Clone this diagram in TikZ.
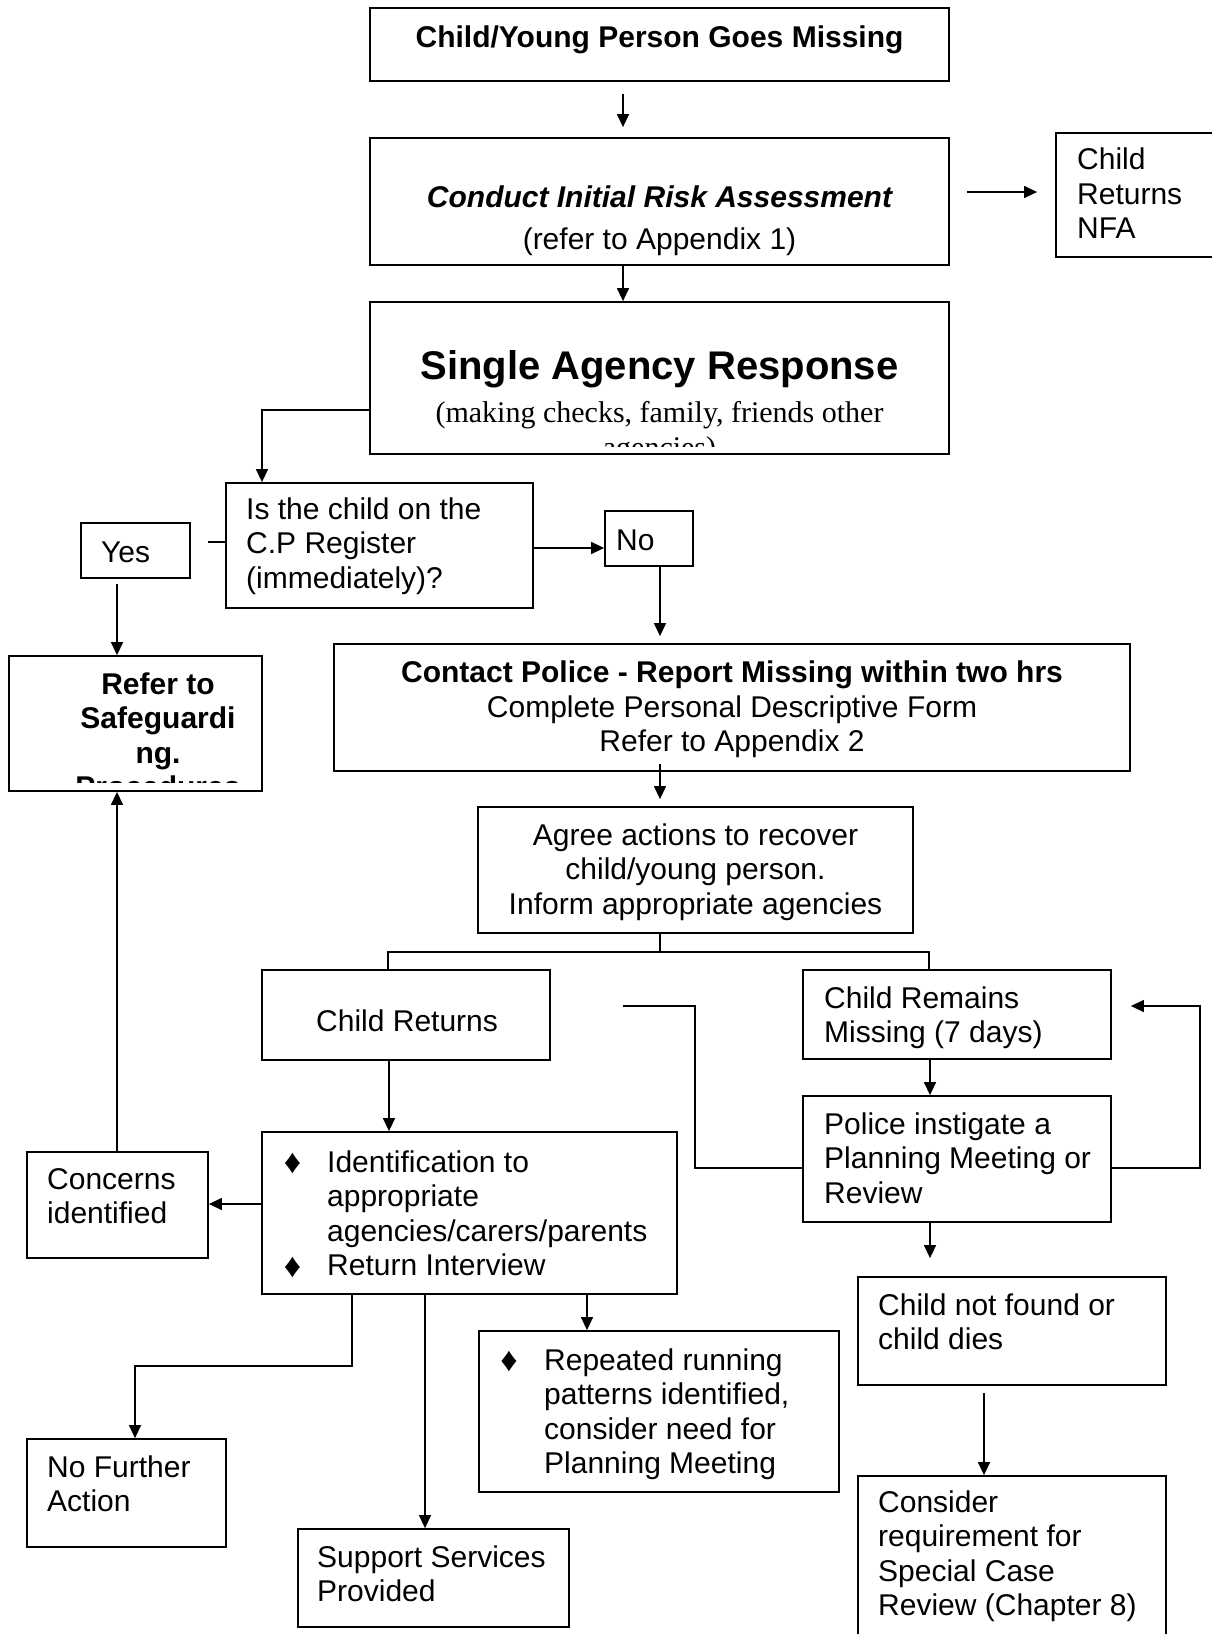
\documentclass[tikz,border=0pt]{standalone}
\usepackage{fontspec}
\setmainfont{Liberation Sans}
\newfontfamily\timesfont{Liberation Serif}
\usetikzlibrary{arrows.meta,fit}
\newcommand\myfs{\fontsize{30}{34.5}\selectfont}
\tikzset{
  box/.style={draw, line width=1.8pt, inner sep=0pt},
  txt/.style={inner sep=0pt, font=\myfs, align=left, anchor=base west},
  ctxt/.style={inner sep=0pt, font=\myfs, align=center, anchor=base},
  bul/.style={inner sep=0pt, font=\fontsize{34}{38}\selectfont, anchor=base},
  arr/.style={line width=1.4pt, -{Triangle[length=13pt,width=12pt]}},
  conn/.style={line width=1.4pt},
}
\begin{document}
\begin{tikzpicture}[x=1pt,y=-1pt]
\fill[white] (0,0) rectangle (1211,1634);
\useasboundingbox (0,0) rectangle (1211,1634);

% boxes
\node[box, fit={(370,8) (949,81)}] (b1) {};
\node[box, fit={(370,138) (949,265)}] (b2) {};
\node[box, fit={(1056,133) (1240,257)}] (nfa) {};
\node[box, fit={(370,302) (949,454)}] (b3) {};
\node[box, fit={(226,483) (533,608)}] (isq) {};
\node[box, fit={(81,523) (190,578)}] (yes) {};
\node[box, fit={(605,511) (693,566)}] (no) {};
\node[box, fit={(9,656) (262,791)}] (ref) {};
\node[box, fit={(334,644) (1130,771)}] (cp) {};
\node[box, fit={(478,807) (913,933)}] (ag) {};
\node[box, fit={(262,970) (550,1060)}] (cr) {};
\node[box, fit={(803,970) (1111,1059)}] (crm) {};
\node[box, fit={(803,1096) (1111,1222)}] (pol) {};
\node[box, fit={(262,1132) (677,1294)}] (idf) {};
\node[box, fit={(27,1152) (208,1258)}] (conc) {};
\node[box, fit={(27,1439) (226,1547)}] (nfa2) {};
\node[box, fit={(479,1331) (839,1492)}] (rep) {};
\node[box, fit={(298,1529) (569,1627)}] (sup) {};
\node[box, fit={(858,1277) (1166,1385)}] (cnf) {};
\node[box, fit={(858,1476) (1166,1680)}] (con) {};

% texts (multi-line nodes are placed at the baseline of their last line)
\node[ctxt, font=\myfs\bfseries] (t1) at (659.5,47) {Child/Young Person Goes Missing};
\node[ctxt, font=\myfs\bfseries\itshape] (t2a) at (659.5,207) {Conduct Initial Risk Assessment};
\node[ctxt] (t2b) at (659.5,249) {(refer to Appendix 1)};
\node[txt] (nfat) at (1077,238.5) {Child\\Returns\\NFA};
\node[ctxt, font=\fontsize{40}{46}\selectfont\bfseries] (t3a) at (659.5,379) {Single Agency Response};
\begin{scope}
  \clip (371,303) rectangle (948,446.5);
  \node[ctxt, font=\timesfont\myfs] (t3b) at (659.5,422) {(making checks, family, friends other};
  \node[ctxt, font=\timesfont\myfs] (t3c) at (659.5,457) {agencies)};
\end{scope}
\node[txt] (isqt) at (246,588) {Is the child on the\\C.P Register\\(immediately)?};
\node[txt] (yest) at (101,562) {Yes};
\node[txt] (not) at (616,550) {No};
\begin{scope}
  \clip (10,657) rectangle (261,782);
  \node[ctxt, font=\myfs\bfseries] (reft) at (158,797.5) {Refer to\\Safeguardi\\ng.\\Procedures};
\end{scope}
\node[ctxt] (cpt) at (732,751.5) {\textbf{Contact Police - Report Missing within two hrs}\\Complete Personal Descriptive Form\\Refer to Appendix 2};
\node[ctxt] (agt) at (695.5,914) {Agree actions to recover\\child/young person.\\Inform appropriate agencies};
\node[txt] (crt) at (316,1031) {Child Returns};
\node[txt] (crmt) at (824,1042.5) {Child Remains\\Missing (7 days)};
\node[txt] (polt) at (824,1203) {Police instigate a\\Planning Meeting or\\Review};
\node[bul] (idb1) at (292.5,1173) {♦};
\node[bul] (idb2) at (292.5,1277) {♦};
\node[txt] (idft) at (327,1275.5) {Identification to\\appropriate\\agencies/carers/parents\\Return Interview};
\node[txt] (conct) at (47,1223.5) {Concerns\\identified};
\node[txt] (nfa2t) at (47,1511.5) {No Further\\Action};
\node[txt] (supt) at (317,1601.5) {Support Services\\Provided};
\node[bul] (repb) at (509,1371) {♦};
\node[txt] (rept) at (544,1473.5) {Repeated running\\patterns identified,\\consider need for\\Planning Meeting};
\node[txt] (cnft) at (878,1349.5) {Child not found or\\child dies};
\node[txt] (cont) at (878,1615.5) {Consider\\requirement for\\Special Case\\Review (Chapter 8)};

% helper coordinates
\coordinate (split) at (660,952);
\coordinate (loopturn) at (695,1006);
\coordinate (loopend) at (623,1006);
\coordinate (loopR) at (1200,1087);

% connectors
\draw[arr] ([xshift=-36.5pt,yshift=-12pt]b1.south) -- ([xshift=-36.5pt,yshift=10pt]b2.north);
\draw[arr] ([xshift=-36.5pt]b2.south) -- ([xshift=-36.5pt]b3.north);
\draw[arr] ([xshift=17pt,yshift=9.5pt]b2.east) -- ([xshift=-18pt,yshift=3pt]nfa.west);
\draw[arr] ([yshift=-32pt]b3.west) -| ([xshift=-117.5pt]isq.north);
\draw[conn] ([yshift=3.5pt]isq.west) -- ([xshift=17pt,yshift=8.5pt]yes.east);
\draw[arr] ([yshift=-2.5pt]isq.east) -- ([yshift=-9.5pt]no.west);
\draw[arr] ([xshift=11pt]no.south) -- ([xshift=-72pt,yshift=7pt]cp.north);
\draw[arr] ([xshift=-18.5pt,yshift=-5pt]yes.south) -- ([xshift=-18.5pt]ref.north);
\draw[arr] ([xshift=-72pt,yshift=8pt]cp.south) -- ([xshift=-35.5pt,yshift=7pt]ag.north);
\draw[conn] ([xshift=-35.5pt]ag.south) -- (split);
\draw[conn] ([xshift=-18pt]cr.north) |- (split) -| ([xshift=-28pt]crm.north);
\draw[arr] ([xshift=-27pt]crm.south) -- ([xshift=-27pt]pol.north);
\draw[arr] ([xshift=-27pt]pol.south) -- ([xshift=-82pt,yshift=18pt]cnf.north);
\draw[arr] ([xshift=-28pt,yshift=-7pt]cnf.south) -- ([xshift=-28pt]con.north);
\draw[conn] ([yshift=-9pt]pol.west) -| (loopturn) -- (loopend);
\draw[arr] ([yshift=-9pt]pol.east) -| (loopR) |- ([xshift=19pt,yshift=8.5pt]crm.east);
\draw[arr] ([xshift=-17pt]cr.south) -- ([xshift=-80.5pt]idf.north);
\draw[arr] ([yshift=9pt]idf.west) -- ([yshift=1pt]conc.east);
\draw[arr] ([xshift=-0.5pt]conc.north) -- ([xshift=-18.5pt]ref.south);
\draw[arr] ([xshift=-117.5pt]idf.south) |- ([xshift=8.5pt,yshift=72pt]nfa2.north) -- ([xshift=8.5pt]nfa2.north);
\draw[arr] ([xshift=-44.5pt]idf.south) -- ([xshift=-8.5pt]sup.north);
\draw[arr] ([xshift=117.5pt]idf.south) -- ([xshift=-72pt]rep.north);
\end{tikzpicture}
\end{document}
